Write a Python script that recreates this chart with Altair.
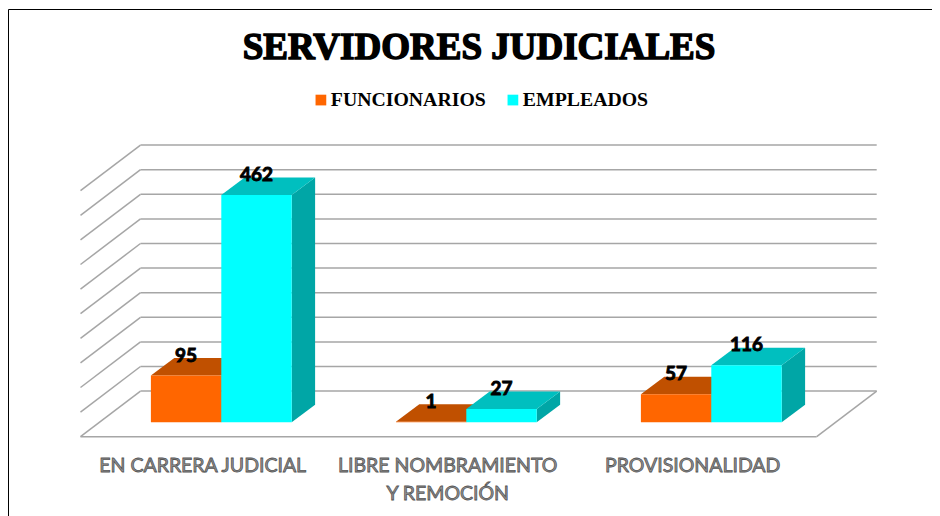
import altair as alt
import pandas as pd

CATEGORIES = ["EN CARRERA JUDICIAL", "LIBRE NOMBRAMIENTO\nY REMOCIÓN", "PROVISIONALIDAD"]
FUNCIONARIOS = [95, 1, 57]
EMPLEADOS = [462, 27, 116]
SERIES = ["FUNCIONARIOS", "EMPLEADOS"]
FRONT = ["#FF6600", "#00FFFF"]
TOP = ["#C05000", "#00BFBF"]
SIDE = ["#A64500", "#00A6A6"]
GRID_TICKS = [0, 50, 100, 150, 200, 250, 300, 350, 400, 450, 500]

W, H = 924, 508
PX_PER_CAT = 245.0
PX_PER_VAL = 0.492
X0_PX, Y0_PX = 213.3, 414.3      # plot position of category 0 centre / value 0 on the bars' front plane
x_dom = [-X0_PX / PX_PER_CAT, (W - X0_PX) / PX_PER_CAT]
y_dom = [(Y0_PX - H) / PX_PER_VAL, Y0_PX / PX_PER_VAL]
BAR_W = 70.4 / PX_PER_CAT
BAR_DX, BAR_DY = 23.4 / PX_PER_CAT, 17.5 / PX_PER_VAL      # depth of one bar
GAP_DX, GAP_DY = 18.6 / PX_PER_CAT, 14.4 / PX_PER_VAL      # floor front edge to bar front
WALL_DX, WALL_DY = 60.0 / PX_PER_CAT, 45.6 / PX_PER_VAL    # whole floor depth
FLOOR_L = (72.5 - X0_PX) / PX_PER_CAT
FLOOR_R = (808.7 - X0_PX) / PX_PER_CAT

x = lambda f: alt.X(f, type="quantitative", scale=alt.Scale(domain=x_dom), axis=None)
y = lambda f: alt.Y(f, type="quantitative", scale=alt.Scale(domain=y_dom), axis=None)

# grid
rows = []
for t in GRID_TICKS:
    yb = t - GAP_DY + WALL_DY
    rows.append(dict(x=FLOOR_L + WALL_DX, x2=FLOOR_R + WALL_DX, y=yb, y2=yb))
    rows.append(dict(x=FLOOR_L, x2=FLOOR_L + WALL_DX, y=yb - WALL_DY, y2=yb))
rows.append(dict(x=FLOOR_L, x2=FLOOR_R, y=-GAP_DY, y2=-GAP_DY))
rows.append(dict(x=FLOOR_R, x2=FLOOR_R + WALL_DX, y=-GAP_DY, y2=-GAP_DY + WALL_DY))
grid = alt.Chart(pd.DataFrame(rows)).mark_rule(color="#A6A6A6", strokeWidth=1.5).encode(
    x=x("x"), x2="x2", y=y("y"), y2="y2"
)

# bars
fronts, tops, sides, labels = [], [], [], []
for s_i, (name, vals) in enumerate(zip(SERIES, [FUNCIONARIOS, EMPLEADOS])):
    for c_i, v in enumerate(vals):
        l = c_i + (s_i - 1) * BAR_W
        r = l + BAR_W
        fronts.append(dict(series=name, x=l, x2=r, y=0, y2=v))
        key = f"{s_i}-{c_i}"
        tops += [
            dict(key=key, s=name, x=l, y=v, y2=v),
            dict(key=key, s=name, x=l + BAR_DX, y=v + BAR_DY, y2=v),
            dict(key=key, s=name, x=r, y=v + BAR_DY, y2=v),
            dict(key=key, s=name, x=r + BAR_DX, y=v + BAR_DY, y2=v + BAR_DY),
        ]
        sides += [
            dict(key=key, s=name, x=r, y=v, y2=0),
            dict(key=key, s=name, x=r + BAR_DX, y=v + BAR_DY, y2=BAR_DY),
        ]
        labels.append(dict(x=(l + r) / 2, y=v, text=str(v), o=s_i))

color_scale = alt.Scale(domain=SERIES, range=FRONT)
layers = [grid]
for s_i, name in enumerate(SERIES):
    df_top = pd.DataFrame([t for t in tops if t["s"] == name])
    df_side = pd.DataFrame([t for t in sides if t["s"] == name])
    df_front = pd.DataFrame([t for t in fronts if t["series"] == name])
    layers.append(alt.Chart(df_side).mark_area(color=SIDE[s_i], interpolate="linear", orient="vertical").encode(
        x=x("x"), y=y("y"), y2="y2", detail="key:N"))
    layers.append(alt.Chart(df_top).mark_area(color=TOP[s_i], interpolate="linear", orient="vertical").encode(
        x=x("x"), y=y("y"), y2="y2", detail="key:N"))
    layers.append(alt.Chart(df_front).mark_rect().encode(
        x=x("x"), x2="x2", y=y("y"), y2="y2",
        color=alt.Color("series:N", scale=color_scale, sort=SERIES, legend=alt.Legend(
            title=None, orient="none", legendX=303, legendY=82, direction="horizontal",
            columns=2, symbolType="square", symbolSize=115, symbolStrokeWidth=0, columnPadding=17,
            labelFont="Liberation Serif", labelFontWeight="bold", labelFontSize=19.8, labelColor="black",
            labelOffset=0))))

value_labels = alt.Chart(pd.DataFrame(labels)).mark_text(
    font="Lato", fontWeight="bold", fontSize=19, color="black", stroke="black", strokeWidth=0.9,
    baseline="middle", dy=-20
).encode(x=x("x"), y=y("y"), text="text:N")

cat_labels = alt.Chart(pd.DataFrame({
    "x": [i - GAP_DX for i in range(3)], "text": CATEGORIES})).mark_text(
    font="Lato", fontSize=19.5, fill="#969696", stroke="#555555", strokeWidth=0.8,
    baseline="top", lineBreak="\n", lineHeight=28
).encode(x=x("x"), y=alt.value(449), text="text:N")

title = alt.Chart(pd.DataFrame({"t": ["SERVIDORES JUDICIALES"]})).mark_text(
    font="Liberation Serif", fontWeight="bold", fontSize=37, color="black", stroke="black",
    strokeWidth=1.5, baseline="middle"
).encode(x=alt.value(471), y=alt.value(40), text="t:N")

border = alt.Chart(pd.DataFrame({"a": [0]})).mark_rule(color="black", strokeWidth=1)
border_l = border.encode(x=alt.value(0.5), y=alt.value(1.5), y2=alt.value(H))
border_t = border.encode(y=alt.value(1.5), x=alt.value(0.5), x2=alt.value(W))

chart = alt.layer(*layers, value_labels, cat_labels, title, border_l, border_t).properties(
    width=W, height=H, padding=0, autosize=alt.AutoSizeParams(type="none"), background="white"
).resolve_scale(color="shared").configure_view(stroke=None)

chart.save("out.html", embed_options={"renderer": "svg", "actions": False})
